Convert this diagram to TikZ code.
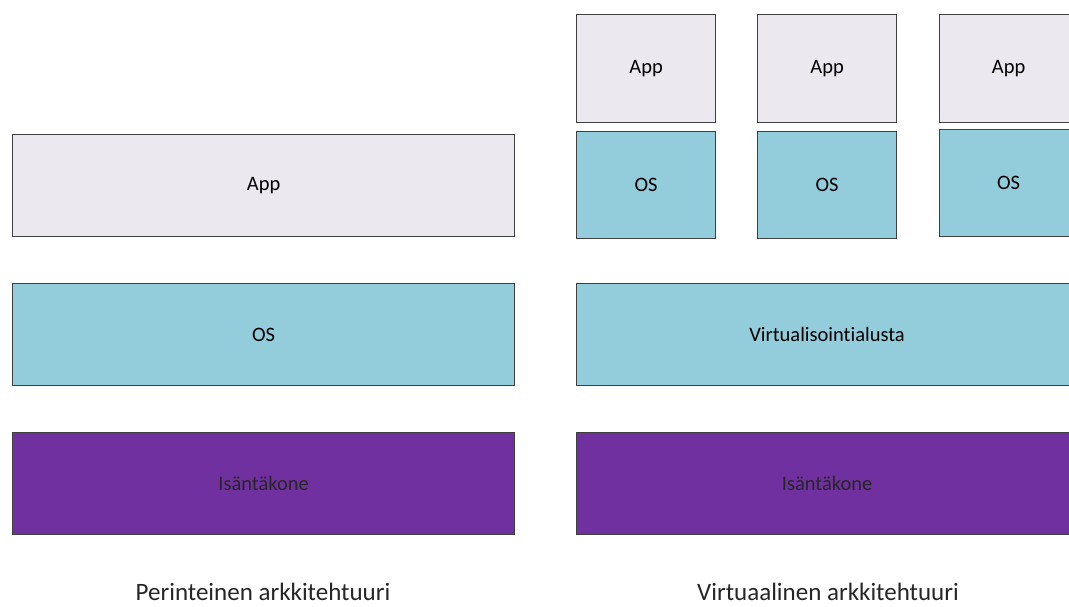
\documentclass[tikz,border=0pt]{standalone}
\usepackage{fontspec}
\setmainfont{Carlito}[Ligatures={NoCommon,NoRare,NoDiscretionary}]
\definecolor{appfill}{HTML}{EBE8F0}
\definecolor{osfill}{HTML}{93CDDB}
\definecolor{hostfill}{HTML}{7030A0}
\definecolor{edge}{HTML}{3F3F3F}
\begin{document}
\begin{tikzpicture}[x=1pt,y=1pt,
  layer/.style={draw=edge, line width=1.2pt, anchor=north west, inner sep=0pt, font=\fontsize{20.5}{24}\selectfont},
  appbox/.style={layer, fill=appfill},
  osbox/.style={layer, fill=osfill},
  hostbox/.style={layer, fill=hostfill, text=black!85},
  caption/.style={anchor=base, inner sep=0pt, font=\fontsize{25}{30}\selectfont, text=black!85}]
\useasboundingbox (0,0) rectangle (1069,-606);
\clip (0,0) rectangle (1069,-606);
% traditional
\node[appbox, minimum width=502, minimum height=102] (lapp) at (12,-134) {App};
\node[osbox, minimum width=502, minimum height=102] (los) at (12,-283) {OS};
\node[hostbox, minimum width=502, minimum height=102] (lhost) at (12,-432) {Isäntäkone};
% virtual
\node[appbox, minimum width=139, minimum height=108] (a1) at (576,-14) {App};
\node[osbox, minimum width=139, minimum height=107] (o1) at (576,-131) {OS};
\node[appbox, minimum width=139, minimum height=108] (a2) at (757,-14) {App};
\node[osbox, minimum width=139, minimum height=107] (o2) at (757,-131) {OS};
\node[appbox, minimum width=138, minimum height=108] (a3) at (939,-14) {App};
\node[osbox, minimum width=138, minimum height=107] (o3) at (939,-129) {OS};
\node[osbox, minimum width=501, minimum height=102] (virt) at (576,-283) {Virtualisointialusta};
\node[hostbox, minimum width=501, minimum height=102] (rhost) at (576,-432) {Isäntäkone};
% captions
\node[caption] (c1) at (263,-600) {Perinteinen arkkitehtuuri};
\node[caption] (c2) at (828,-600) {Virtuaalinen arkkitehtuuri};
\end{tikzpicture}
\end{document}
